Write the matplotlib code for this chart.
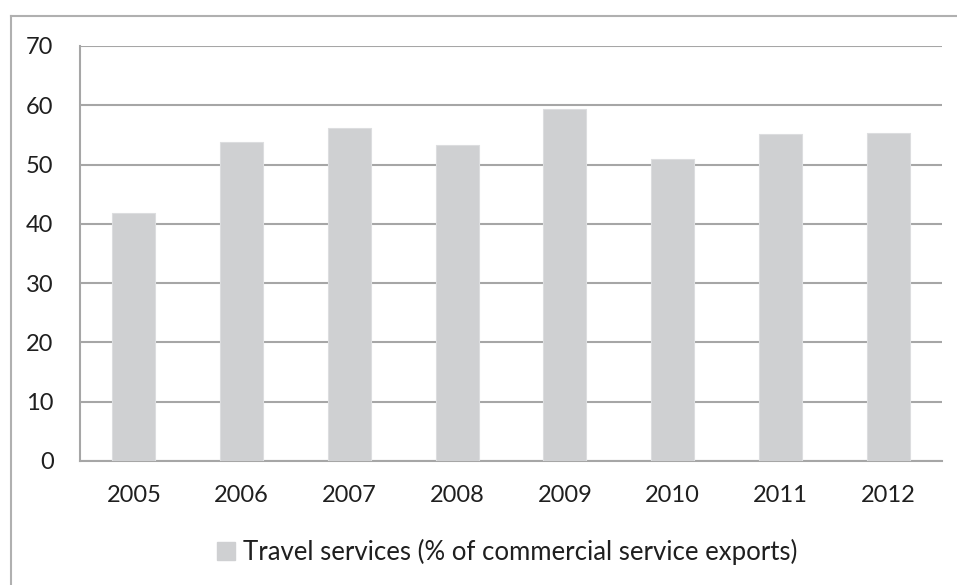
import matplotlib.pyplot as plt
from matplotlib.lines import Line2D
from matplotlib.patches import Patch

# Datos
years = ["2005", "2006", "2007", "2008", "2009", "2010", "2011", "2012"]
travel_share = [41.8, 53.8, 56.2, 53.3, 59.3, 50.9, 55.1, 55.4]
y_ticks = [0, 10, 20, 30, 40, 50, 60, 70]

bar_color = "#CFD0D2"
grid_color = "#A6A6A6"
text_color = "#1F1F1F"

plt.rcParams["font.family"] = ["Lato", "DejaVu Sans"]

fig = plt.figure(figsize=(9.57, 5.85), dpi=100)
ax = fig.add_axes([0.0836, 0.2120, 0.9007, 0.7094])

x = range(len(years))
ax.bar(x, travel_share, width=0.4, color=bar_color, edgecolor="#DCDDDF",
       linewidth=0.8, zorder=3)

ax.set_ylim(0, 70)
ax.set_xlim(-0.5, len(years) - 0.5)
ax.set_yticks(y_ticks)
ax.set_xticks(list(x))
ax.set_xticklabels(years)
ax.yaxis.grid(True, color=grid_color, linewidth=1.5, zorder=0)
ax.tick_params(axis="both", length=0, labelsize=17, colors=text_color)
ax.tick_params(axis="y", pad=19)
ax.tick_params(axis="x", pad=17)

for side in ["top", "right"]:
    ax.spines[side].set_visible(False)
for side in ["left", "bottom"]:
    ax.spines[side].set_color(grid_color)
    ax.spines[side].set_linewidth(1.5)

# Leyenda
handle = Patch(facecolor=bar_color, edgecolor=bar_color)
fig.legend(handles=[handle],
           labels=["Travel services (% of commercial service exports)"],
           loc="center", bbox_to_anchor=(0.53, 1 - 552 / 585), frameon=False,
           fontsize=18.5, labelcolor=text_color, handlelength=0.7,
           handleheight=0.7, handletextpad=0.3)

# Marco exterior (solo superior e izquierdo)
fig.add_artist(Line2D([11 / 957, 1], [1 - 16 / 585, 1 - 16 / 585],
                      transform=fig.transFigure, color="#B0B0B0", linewidth=1.5))
fig.add_artist(Line2D([11 / 957, 11 / 957], [0, 1 - 16 / 585],
                      transform=fig.transFigure, color="#B0B0B0", linewidth=1.5))

fig.savefig("out.png", dpi=100, facecolor="white")
